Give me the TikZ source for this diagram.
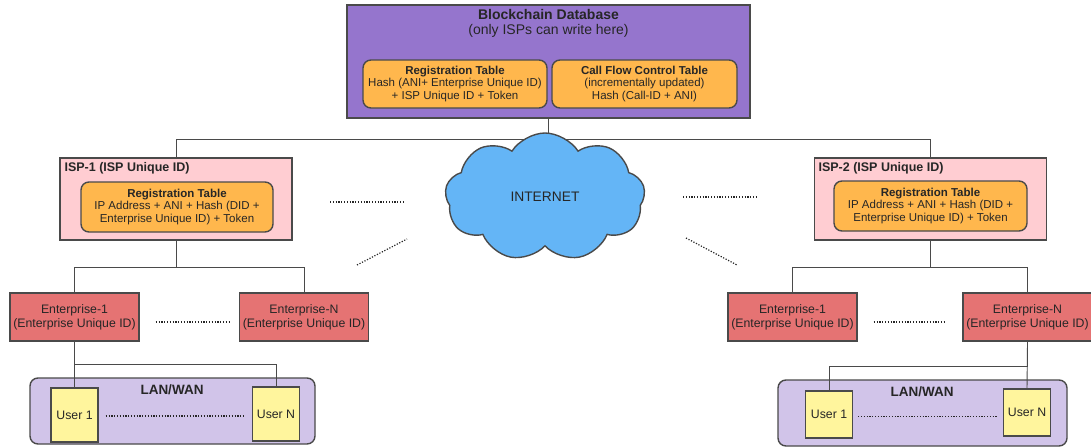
\documentclass[tikz,border=0pt]{standalone}
\usepackage{fontspec}
\setmainfont{Liberation Sans}
\usetikzlibrary{shapes.symbols}

\definecolor{chainpurple}{HTML}{9575CD}
\definecolor{tableorange}{HTML}{FFB74D}
\definecolor{isppink}{HTML}{FFCDD2}
\definecolor{entred}{HTML}{E57373}
\definecolor{lanlilac}{HTML}{D1C4E9}
\definecolor{useryellow}{HTML}{FFF59D}
\definecolor{cloudblue}{HTML}{64B5F6}
\definecolor{edgegray}{HTML}{4A4A4A}

\begin{document}
\begin{tikzpicture}[x=1pt, y=-1pt,
    box/.style={draw=edgegray, line width=1.4pt, inner sep=0pt, text=black!85},
    tablebox/.style={box, fill=tableorange, rounded corners=8pt, align=center,
        font=\fontsize{11.5}{12.8}\selectfont},
    ispbox/.style={box, fill=isppink, minimum width=232, minimum height=82},
    entbox/.style={box, fill=entred, align=center, minimum width=129, minimum height=48,
        font=\fontsize{12.3}{14}\selectfont},
    lanbox/.style={box, fill=lanlilac, rounded corners=8pt},
    userbox/.style={box, fill=useryellow, minimum width=47, font=\fontsize{12.3}{14}\selectfont},
    link/.style={draw=edgegray, line width=0.9pt},
    dots/.style={draw=black!85, line width=1.2pt, dash pattern=on 1.2pt off 1.6pt}
]
    \useasboundingbox (0,0) rectangle (1091,447);

    % Blockchain Database
    \node[box, fill=chainpurple, minimum width=403, minimum height=113] (bc) at (548.5,61.5) {};
    \node[align=center, text=black!85, font=\fontsize{14}{15.5}\selectfont] (bctitle) at (548.5,23.5)
        {\textbf{Blockchain Database}\\(only ISPs can write here)};
    \node[tablebox, minimum width=184, minimum height=48] (bcreg) at (455,84)
        {\textbf{Registration Table}\\Hash (ANI+ Enterprise Unique ID)\\+ ISP Unique ID + Token};
    \node[tablebox, minimum width=185, minimum height=48] (bcflow) at (644.5,84)
        {\textbf{Call Flow Control Table}\\(incrementally updated)\\Hash (Call-ID + ANI)};

    % ISPs
    \node[ispbox] (isp1) at (176,199) {};
    \node[anchor=west, text=black!85, font=\bfseries\fontsize{12.5}{14}\selectfont] (isp1title) at (61,168) {ISP-1 (ISP Unique ID)};
    \node[tablebox, minimum width=192, minimum height=50] (isp1reg) at (177,207)
        {\textbf{Registration Table}\\IP Address + ANI + Hash (DID +\\Enterprise Unique ID) + Token};

    \node[ispbox] (isp2) at (930.5,199) {};
    \node[anchor=west, text=black!85, font=\bfseries\fontsize{12.5}{14}\selectfont] (isp2title) at (815,168) {ISP-2 (ISP Unique ID)};
    \node[tablebox, minimum width=193, minimum height=50] (isp2reg) at (930.5,206)
        {\textbf{Registration Table}\\IP Address + ANI + Hash (DID +\\Enterprise Unique ID) + Token};

    % Enterprises
    \node[entbox] (entL1) at (74.5,317) {Enterprise-1\\(Enterprise Unique ID)};
    \node[entbox] (entLN) at (304,317) {Enterprise-N\\(Enterprise Unique ID)};
    \node[entbox] (entR1) at (792.5,317) {Enterprise-1\\(Enterprise Unique ID)};
    \node[entbox] (entRN) at (1027.5,317) {Enterprise-N\\(Enterprise Unique ID)};

    % LAN/WAN with users
    \node[lanbox, minimum width=285, minimum height=66] (lanL) at (172.5,411) {};
    \node[text=black!85, font=\bfseries\fontsize{13.5}{15}\selectfont] (lanLtitle) at (172,390) {LAN/WAN};
    \node[userbox, minimum height=54] (userL1) at (74.5,415) {User 1};
    \node[userbox, minimum height=54] (userLN) at (276,414) {User N};

    \node[lanbox, minimum width=289, minimum height=66] (lanR) at (922.5,413) {};
    \node[text=black!85, font=\bfseries\fontsize{13.5}{15}\selectfont] (lanRtitle) at (922,392) {LAN/WAN};
    \node[userbox, minimum height=47] (userR1) at (829,414.5) {User 1};
    \node[userbox, minimum height=47] (userRN) at (1027,412.5) {User N};

    % Tree links
    \draw[link] (bc.south) -- ++(0,21) -| (isp1.north);
    \draw[link] (bc.south) -- ++(0,21) -| (isp2.north);
    \draw[link] (isp1.south) -- ++(0,27) -| (entL1.north);
    \draw[link] (isp1.south) -- ++(0,27) -| (entLN.north);
    \draw[link] (isp2.south) -- ++(0,27) -| (entR1.north);
    \draw[link] (isp2.south) -- ++(0,27) -| (entRN.north);
    \draw[link] (entL1.south) -- ++(0,23) -| (userLN.north);
    \draw[link] (entL1.south) -- (userL1.north);
    \draw[link] (entRN.south) -- ++(0,25) -| (userR1.north);
    \draw[link] (entRN.south) -- (userRN.north);

    % Internet cloud (covers the top link)
    \node[box, cloud, cloud puffs=9, cloud puff arc=115, aspect=1.5, fill=cloudblue,
        minimum width=200, minimum height=128, font=\fontsize{13.8}{15}\selectfont] (net) at (545,197) {INTERNET};

    % Dotted links to the cloud
    \coordinate (dl1a) at (330,202); \coordinate (dl1b) at (403,202);
    \coordinate (dl2a) at (357,265); \coordinate (dl2b) at (407,239);
    \coordinate (dr1a) at (683,197); \coordinate (dr1b) at (757,197);
    \coordinate (dr2a) at (686,238); \coordinate (dr2b) at (737,265);
    \draw[dots] (dl1a) -- (dl1b);
    \draw[dots] (dl2a) -- (dl2b);
    \draw[dots] (dr1a) -- (dr1b);
    \draw[dots] (dr2a) -- (dr2b);

    % Dotted "..." between siblings
    \draw[dots] ([xshift=16,yshift=-5]entL1.east) -- ([xshift=-10,yshift=-5]entLN.west);
    \draw[dots] ([xshift=16,yshift=-5]entR1.east) -- ([xshift=-16,yshift=-5]entRN.west);
    \draw[dots] ([xshift=7,yshift=-1]userL1.east) -- ([xshift=-7,yshift=-2]userLN.west);
    \draw[dots] ([xshift=5,yshift=-2]userR1.east) -- ([xshift=-5,yshift=-4]userRN.west);
\end{tikzpicture}
\end{document}
